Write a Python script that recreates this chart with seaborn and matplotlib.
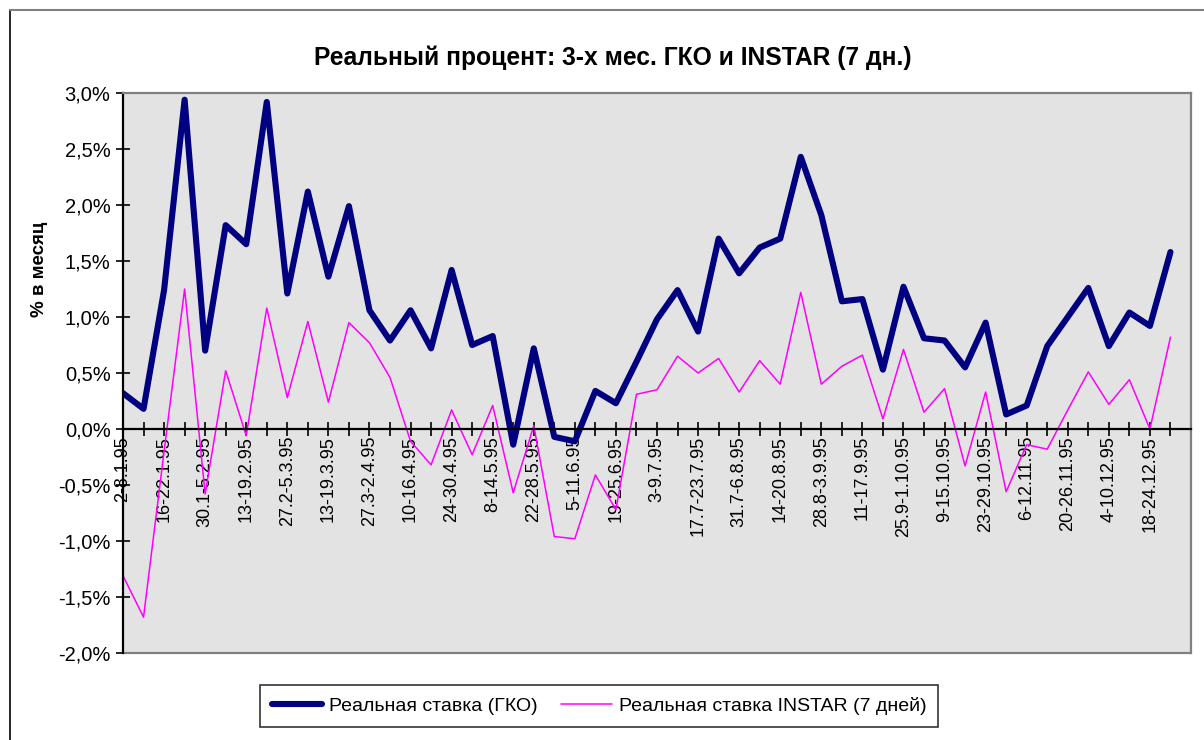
import matplotlib
matplotlib.use("Agg")
import numpy as np
import pandas as pd
import matplotlib.pyplot as plt
from matplotlib.ticker import FuncFormatter, MultipleLocator
from matplotlib.lines import Line2D
import seaborn as sns

gko = [0.32, 0.18, 1.24, 2.94, 0.70, 1.82, 1.65, 2.92, 1.21, 2.12,
       1.36, 1.99, 1.06, 0.79, 1.06, 0.72, 1.42, 0.75, 0.83, -0.14,
       0.72, -0.07, -0.11, 0.34, 0.23, 0.60, 0.98, 1.24, 0.87, 1.70,
       1.39, 1.62, 1.70, 2.43, 1.91, 1.14, 1.16, 0.53, 1.27, 0.81,
       0.79, 0.55, 0.95, 0.13, 0.21, 0.74, 1.00, 1.26, 0.74, 1.04,
       0.92, 1.58]
instar = [-1.31, -1.68, -0.20, 1.25, -0.58, 0.52, -0.06, 1.08, 0.28, 0.96,
          0.24, 0.95, 0.77, 0.46, -0.11, -0.32, 0.17, -0.23, 0.21, -0.57,
          0.03, -0.96, -0.98, -0.41, -0.72, 0.31, 0.35, 0.65, 0.50, 0.63,
          0.33, 0.61, 0.40, 1.22, 0.40, 0.56, 0.66, 0.09, 0.71, 0.15,
          0.36, -0.33, 0.33, -0.56, -0.14, -0.18, 0.17, 0.51, 0.22, 0.44,
          0.00, 0.82]
week_labels = ["2-8.1.95", "16-22.1.95", "30.1-5.2.95", "13-19.2.95", "27.2-5.3.95",
               "13-19.3.95", "27.3-2.4.95", "10-16.4.95", "24-30.4.95", "8-14.5.95",
               "22-28.5.95", "5-11.6.95", "19-25.6.95", "3-9.7.95", "17.7-23.7.95",
               "31.7-6.8.95", "14-20.8.95", "28.8-3.9.95", "11-17.9.95", "25.9-1.10.95",
               "9-15.10.95", "23-29.10.95", "6-12.11.95", "20-26.11.95", "4-10.12.95",
               "18-24.12.95"]

df = pd.DataFrame({"week": np.arange(len(gko)), "gko": gko, "instar": instar})

sns.set_theme(style="white")
plt.rcParams['font.family'] = ['Liberation Sans', 'DejaVu Sans']
plt.rcParams['text.color'] = 'black'
plt.rcParams['xtick.color'] = 'black'
plt.rcParams['ytick.color'] = 'black'
plt.rcParams['axes.labelcolor'] = 'black'

fig = plt.figure(figsize=(12.04, 7.40), dpi=100)
ax = fig.add_axes([123 / 1204, 1 - 653 / 740, (1191 - 123) / 1204, (653 - 93) / 740])
ax.set_facecolor("#e3e3e3")

sns.lineplot(data=df, x="week", y="gko", ax=ax, color="#000080", linewidth=4.4,
             label="Реальная ставка (ГКО)")
sns.lineplot(data=df, x="week", y="instar", ax=ax, color="#ff00ff", linewidth=1.1,
             label="Реальная ставка INSTAR (7 дней)")

ax.set_xlim(0, len(gko))
ax.set_ylim(-2.0, 3.0)

# y axis
ax.yaxis.set_major_locator(MultipleLocator(0.5))
ax.yaxis.set_major_formatter(FuncFormatter(lambda v, p: ("%.1f%%" % v).replace(".", ",")))
ax.tick_params(axis="y", direction="inout", length=10, width=1.2, color="black",
               labelsize=14.5, pad=4, left=True)

# x axis at zero, labels every second week
ax.spines["bottom"].set_position(("data", 0))
ax.set_xticks(np.arange(0, len(gko) + 1, 1))
ax.set_xticklabels([week_labels[i // 2] if i % 2 == 0 and i // 2 < len(week_labels) else ""
                    for i in range(len(gko) + 1)], rotation=90, va="top", ha="center")
ax.tick_params(axis="x", direction="inout", length=10, width=1.2, color="black",
               labelsize=13, pad=0, bottom=True)

for s in ["left", "bottom"]:
    ax.spines[s].set_color("black")
    ax.spines[s].set_linewidth(1.6)
for s in ["top", "right"]:
    ax.spines[s].set_color("#808080")
    ax.spines[s].set_linewidth(1.6)
ax.add_line(Line2D([0, 1], [0, 0], transform=ax.transAxes, color="#808080",
                   linewidth=1.6, clip_on=False))

ax.set_xlabel("")
ax.set_ylabel("% в месяц", fontsize=13.5, fontweight="bold")
ax.yaxis.set_label_coords(-0.07, 0.685)

fig.text(0.509, 1 - 58 / 740, "Реальный процент: 3-х мес. ГКО и INSTAR (7 дн.)",
         ha="center", va="center", fontsize=17.7, fontweight="bold")

leg = ax.legend(loc="center", bbox_to_anchor=(599 / 1204, 1 - 706 / 740),
                bbox_transform=fig.transFigure, ncol=2, frameon=True, fancybox=False,
                edgecolor="black", fontsize=14, handlelength=2.6, columnspacing=1.2,
                handletextpad=0.35, borderpad=0.6)
leg.get_frame().set_linewidth(1.2)

# outer chart border
fig.add_artist(Line2D([10 / 1204, 10 / 1204], [0, 1 - 10 / 740], transform=fig.transFigure,
                      color="black", linewidth=1.2))
fig.add_artist(Line2D([10 / 1204, 1], [1 - 10 / 740, 1 - 10 / 740], transform=fig.transFigure,
                      color="#808080", linewidth=1.5))

fig.savefig("out.png", dpi=100)
